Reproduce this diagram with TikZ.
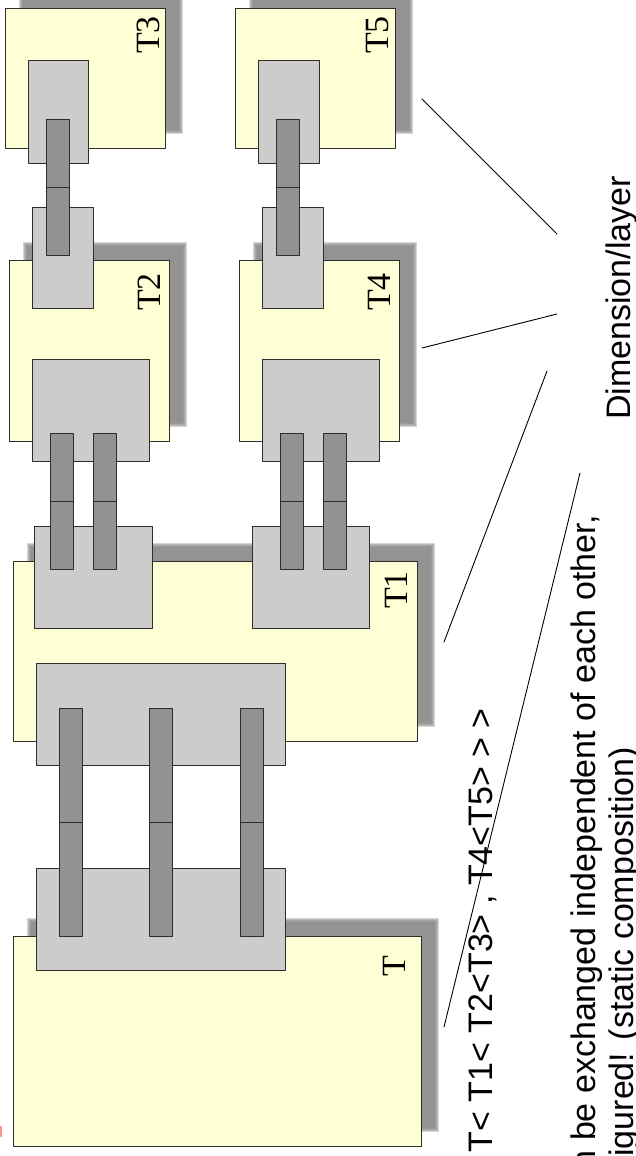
\documentclass[tikz,border=0pt]{standalone}
\usepackage{fontspec}
\setmainfont{Liberation Sans}
\newfontfamily\lblfont{Liberation Serif}
\usetikzlibrary{backgrounds}
\definecolor{boxyellow}{RGB}{255,255,213}
\definecolor{portgray}{RGB}{204,204,204}
\definecolor{bargray}{RGB}{146,146,146}
\definecolor{shadowgray}{RGB}{133,133,133}
\definecolor{edgegray}{RGB}{45,45,45}
\definecolor{bulletred}{RGB}{250,150,150}
\tikzset{
  every picture/.style={line join=round, line cap=round},
  box/.style={draw=edgegray, fill=boxyellow, line width=1pt, anchor=north west, inner sep=0pt, outer sep=0pt},
  port/.style={draw=edgegray, fill=portgray, line width=1pt},
  bar/.style={draw=edgegray, fill=bargray, line width=1pt},
  lbl/.style={rotate=90, anchor=south east, inner sep=0pt, font=\lblfont\fontsize{34}{40}\selectfont},
  txt/.style={rotate=90, inner sep=0pt, font=\fontsize{34}{40}\selectfont},
  pointer/.style={line width=0.9pt},
}

\begin{document}
\begin{tikzpicture}[x=1pt,y=-1pt]
\useasboundingbox (0,0) rectangle (636,1156);
\clip (0,0) rectangle (636,1156);

% layers
\node[box, minimum width=160, minimum height=139] (T3) at (5,9) {};
\node[box, minimum width=160, minimum height=139] (T5) at (235,9) {};
\node[box, minimum width=160, minimum height=181] (T2) at (9,260) {};
\node[box, minimum width=160, minimum height=181] (T4) at (239,260) {};
\node[box, minimum width=404, minimum height=180] (T1) at (13,561) {};
\node[box, minimum width=408, minimum height=210] (T) at (13,936) {};

% soft shadows
\begin{scope}[on background layer]
\foreach \b in {T,T1,T2,T3,T4,T5}
  \foreach \e in {0,...,4}
    \fill[shadowgray, opacity=0.35] ([shift={(14+\e,-18+\e)}]\b.north west) rectangle ([shift={(18-\e,-14-\e)}]\b.south east);
\end{scope}

% ports
\draw[port] (28,61) rectangle (88,163);
\draw[port] (258,61) rectangle (319,163);
\draw[port] (32,207) rectangle (93,308);
\draw[port] (262,207) rectangle (323,308);
\draw[port] (32,359) rectangle (149,461);
\draw[port] (262,359) rectangle (379,461);
\draw[port] (34,526) rectangle (152,628);
\draw[port] (252,526) rectangle (369,628);
\draw[port] (36,663) rectangle (285,765);
\draw[port] (36,868) rectangle (285,970);

% bars
\foreach \x in {46,276}
  \foreach \y in {119,187}
    \draw[bar] (\x,\y) rectangle +(23,68);
\foreach \x in {50,93,280,323}
  \foreach \y in {433,501}
    \draw[bar] (\x,\y) rectangle +(23,68);
\foreach \x in {59,149,240}
  \foreach \y in {708,822}
    \draw[bar] (\x,\y) rectangle +(23,114);

% layer names
\node[lbl] (lT3) at (160,16) {T3};
\node[lbl] (lT5) at (389,16) {T5};
\node[lbl] (lT2) at (161,273) {T2};
\node[lbl] (lT4) at (391,273) {T4};
\node[lbl] (lT1) at (408,571) {T1};
\node[lbl] (lT) at (406,956) {T};

% texts
\fill[bulletred] (0,1126) rectangle (1.5,1137);
\node[txt, anchor=base west] (dim) at (630,420) {Dimension/layer};
\node[txt, anchor=base east] (sig) at (492,708) {e T< T1< T2<T3> , T4<T5> > >};
\node[txt, anchor=base east] (note1) at (595,515) {n be exchanged independent of each other,};
\node[txt, anchor=base east] (note2) at (633,747) {figured! (static composition)};

% pointers
\coordinate (d1) at (557,234); \coordinate (p5) at (422,99);
\coordinate (d2) at (557,314); \coordinate (p4) at (422,348);
\coordinate (d3) at (547,371); \coordinate (p1) at (444,642);
\coordinate (n1) at (580,473); \coordinate (p0) at (444,1027);
\draw[pointer] (d1) -- (p5);
\draw[pointer] (d2) -- (p4);
\draw[pointer] (d3) -- (p1);
\draw[pointer] (n1) -- (p0);
\end{tikzpicture}
\end{document}
